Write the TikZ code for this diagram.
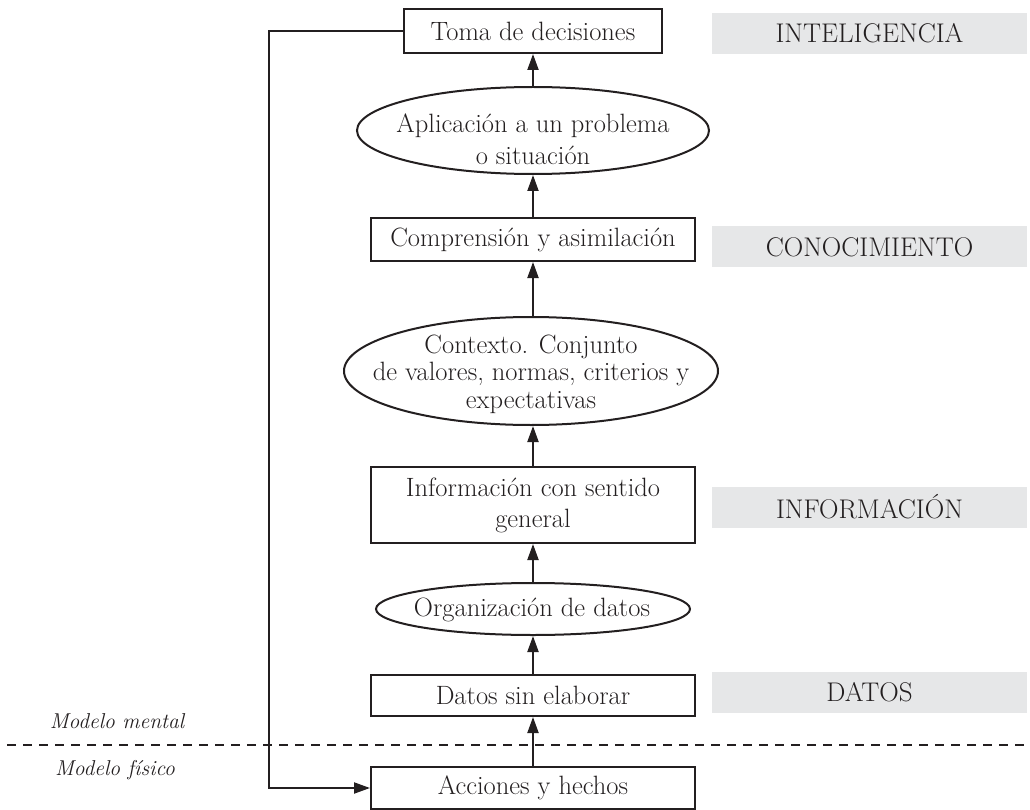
\documentclass[tikz,border=0pt]{standalone}
\usepackage{fontspec}
\usetikzlibrary{arrows.meta,shapes.geometric}
\definecolor{ink}{HTML}{231F20}
\definecolor{band}{HTML}{E6E7E8}
\begin{document}
\begin{tikzpicture}[x=1pt,y=-1pt,
  every node/.style={text=ink,font=\fontsize{26.5}{31}\selectfont},
  boxnode/.style={draw=ink,line width=2pt,rectangle,inner sep=0pt,align=center},
  ovalnode/.style={draw=ink,line width=2pt,ellipse,inner sep=0pt},
  ovaltext/.style={align=center,inner sep=0pt},
  levelband/.style={fill=band,rectangle,inner sep=0pt,minimum width=315,minimum height=41,
    font=\fontsize{27}{30}\selectfont\addfontfeatures{LetterSpace=3}},
  sidenote/.style={font=\itshape\fontsize{21.5}{25}\selectfont},
  arr/.style={draw=ink,line width=2pt,-{Triangle[length=16pt,width=11pt]}}]
\useasboundingbox (0,0) rectangle (1030,810);

% chain of stages, bottom to top
\node[boxnode,minimum width=258,minimum height=44] (toma) at (533,31) {Toma de decisiones};
\node[ovalnode,minimum width=352,minimum height=87] (aplic) at (533,130.5) {};
\node[ovaltext,font=\fontsize{26.5}{31.5}\selectfont] (aplict) at (533,139) {Aplicación a un problema\\o situación};
\node[boxnode,minimum width=324,minimum height=43] (compr) at (533,239.5) {Comprensión y asimilación};
\node[ovalnode,minimum width=374,minimum height=108] (ctx) at (531,371) {};
\node[ovaltext,font=\fontsize{26.5}{27.5}\selectfont] (ctxt) at (531,374) {Contexto. Conjunto\\de valores, normas, criterios y\\expectativas};
\node[boxnode,minimum width=324,minimum height=76] (info) at (533,505) {Información con sentido\\general};
\node[ovalnode,minimum width=314,minimum height=52] (org) at (533,609) {};
\node[ovaltext] (orgt) at (532,610) {Organización de datos};
\node[boxnode,minimum width=324,minimum height=41] (datos) at (533,695.5) {Datos sin elaborar};
\node[boxnode,minimum width=324,minimum height=42] (acc) at (533,788) {Acciones y hechos};

% level bands on the right
\node[levelband] (lint) at (869.5,33.5) {INTELIGENCIA};
\node[levelband] (lcon) at (869.5,247) {CONOCIMIENTO};
\node[levelband] (linf) at (869.5,507) {INFORMACIÓN};
\node[levelband] (ldat) at (869.5,692) {DATOS};

% boundary between mental and physical model
\coordinate (dl) at (7,745);
\coordinate (dr) at (1030,745);
\draw[ink,line width=1.6pt,dash pattern=on 9pt off 7pt] (dl) -- (dr);
\node[sidenote] (mm) at (117,721) {Modelo mental};
\node[sidenote] (mf) at (115,770) {Modelo físico};

% upward flow
\draw[arr] (acc.north) -- (datos.south);
\draw[arr] (datos.north) -- (org.south);
\draw[arr] (org.north) -- (info.south);
\draw[arr] (info.north) -- (ctx.south -| info.north);
\draw[arr] (ctx.north -| compr.south) -- (compr.south);
\draw[arr] (compr.north) -- (aplic.south);
\draw[arr] (aplic.north) -- (toma.south);

% feedback from decisions to actions
\coordinate (fb) at (269,31);
\draw[arr] (toma.west) -- (fb) |- (acc.west);
\end{tikzpicture}
\end{document}
